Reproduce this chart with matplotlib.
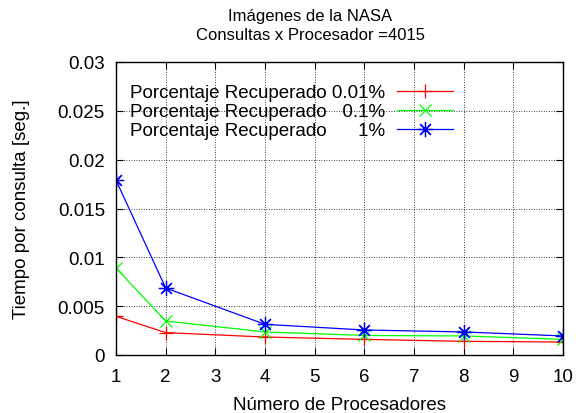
import matplotlib
matplotlib.use("Agg")
import matplotlib.pyplot as plt

plt.rcParams['font.family'] = ['Liberation Sans', 'DejaVu Sans']

procesadores = [1, 2, 4, 6, 8, 10]
rec_001 = [0.00396, 0.00229, 0.00184, 0.00160, 0.00140, 0.00133]
rec_01 = [0.0089, 0.00348, 0.00236, 0.00200, 0.00195, 0.00160]
rec_1 = [0.0179, 0.00686, 0.00314, 0.00256, 0.00236, 0.00195]
labels = ["Porcentaje Recuperado 0.01%",
          "Porcentaje Recuperado   0.1%",
          "Porcentaje Recuperado      1%"]
yticks = [0, 0.005, 0.01, 0.015, 0.02, 0.025, 0.03]
yticklabels = ["0", "0.005", "0.01", "0.015", "0.02", "0.025", "0.03"]
xticks = list(range(1, 11))

fig = plt.figure(figsize=(5.76, 4.14), dpi=100)
ax = fig.add_axes([116/576, 1-356/414, (563-116)/576, (356-63)/414])

fs = 13.5
ax.plot(procesadores, rec_001, color='#ff0000', lw=0.9, marker='+', ms=10, mew=0.9, label=labels[0])
ax.plot(procesadores, rec_01, color='#00ff00', lw=0.9, marker='x', ms=8.5, mew=0.9, label=labels[1])
ax.plot(procesadores, rec_1, color='#0000ff', lw=0.9, marker=(8, 2, 0), ms=11, mew=0.9, label=labels[2])

ax.set_xlim(1, 10)
ax.set_ylim(0, 0.03)
ax.set_xticks(xticks)
ax.set_xticklabels([str(x) for x in xticks], fontsize=fs)
ax.set_yticks(yticks)
ax.set_yticklabels(yticklabels, fontsize=fs)
ax.tick_params(axis='x', direction='in', length=5, width=0.8, top=True, pad=9)
ax.tick_params(axis='y', direction='in', length=5, width=0.8, right=True, pad=8)
ax.grid(True, color='black', linestyle=(0, (1, 2)), linewidth=0.6)
for s in ax.spines.values():
    s.set_linewidth(1.0)

ax.set_xlabel("Número de Procesadores", fontsize=fs, labelpad=8)
ax.set_ylabel("Tiempo por consulta [seg.]", fontsize=fs, labelpad=20)

fig.text(310/576, 1-17/414, "Imágenes de la NASA", ha='center', va='center', fontsize=12)
fig.text(310/576, 1-35/414, "Consultas x Procesador =4015", ha='center', va='center', fontsize=12)

leg = ax.legend(loc='upper left', bbox_to_anchor=((130-116)/447, 0.925), frameon=False, markerfirst=False,
                fontsize=fs, handlelength=3.0, handletextpad=0.64, labelspacing=0.1,
                borderaxespad=0.0, borderpad=0.0)

fig.savefig("out.png", dpi=100)
